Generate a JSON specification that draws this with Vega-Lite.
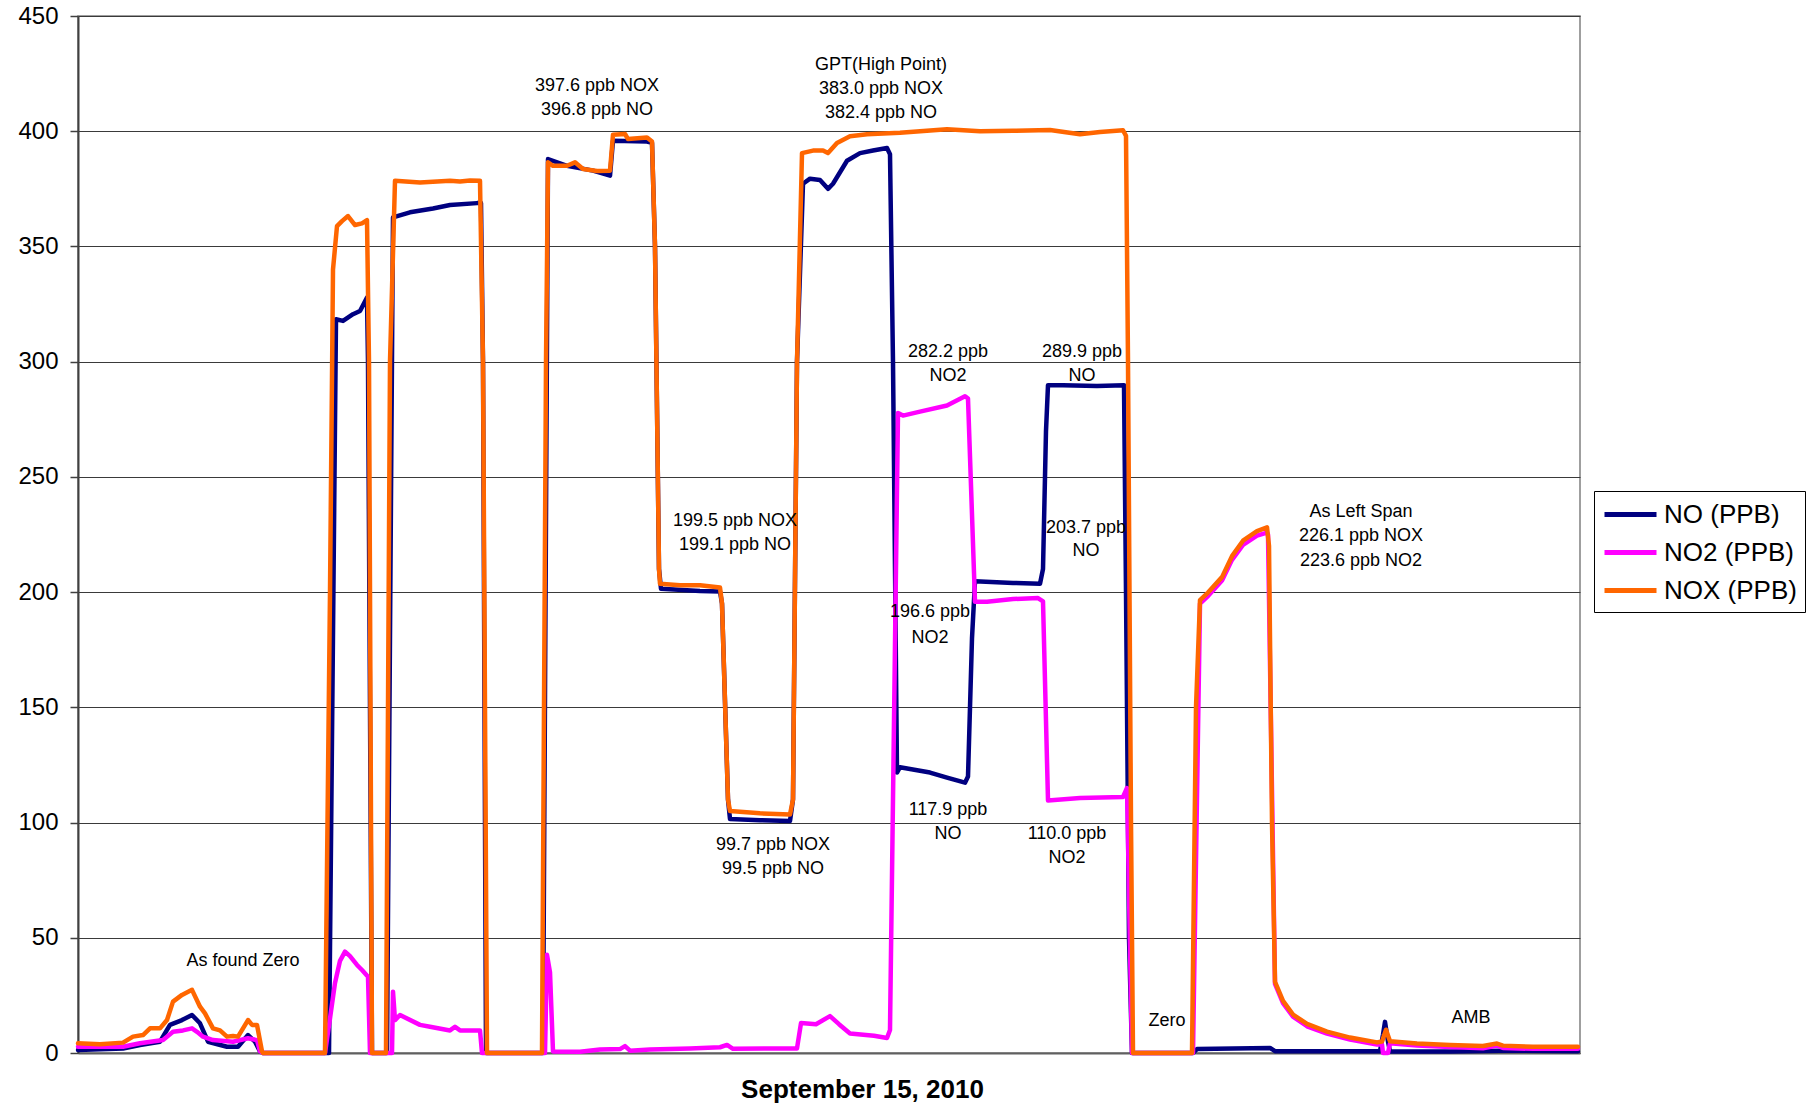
{
  "$schema": "https://vega.github.io/schema/vega-lite/v6.json",
  "width": 1502,
  "height": 1037,
  "autosize": "none",
  "padding": {"left": 78, "top": 16, "right": 234, "bottom": 52},
  "background": "white",
  "config": {
    "view": {"stroke": "#808080", "strokeWidth": 1.5},
    "font": "Liberation Sans",
    "axis": {"labelFont": "Liberation Sans", "titleFont": "Liberation Sans"}
  },
  "datasets": {
    "no": [
      {"t":78,"v":1.3},{"t":123,"v":1.9},{"t":140,"v":3.5},{"t":160,"v":4.9},{"t":170,"v":12.2},{"t":182,"v":14.3},{"t":192,"v":16.5},{"t":200,"v":12.9},{"t":208,"v":4.9},{"t":227,"v":2.7},{"t":238,"v":2.7},{"t":248,"v":7.8},{"t":255,"v":4.9},{"t":260,"v":0.7},{"t":263,"v":0},
      {"t":329,"v":0},{"t":336,"v":318.4},{"t":343,"v":317.7},{"t":353,"v":320.6},{"t":360,"v":322},{"t":367,"v":327.8},{"t":368,"v":300},{"t":372,"v":0},
      {"t":387,"v":0},{"t":393,"v":362.6},{"t":410,"v":364.8},{"t":433,"v":366.5},{"t":450,"v":368},{"t":477,"v":368.8},{"t":481,"v":368.8},{"t":483,"v":300},{"t":486,"v":0},
      {"t":543,"v":0},{"t":548,"v":387.9},{"t":567,"v":385},{"t":593,"v":382.9},{"t":610,"v":380.7},{"t":613,"v":395.9},{"t":647,"v":395.5},{"t":652,"v":395},{"t":655,"v":350},{"t":659,"v":210},{"t":661,"v":201.5},{"t":700,"v":200.5},{"t":720,"v":200.3},{"t":722,"v":195},{"t":728,"v":110},{"t":730,"v":101.5},{"t":760,"v":101},{"t":790,"v":100.7},{"t":793,"v":110},{"t":797,"v":300},{"t":803,"v":377.2},{"t":810,"v":379.4},{"t":820,"v":378.8},{"t":828,"v":375},{"t":833,"v":377.2},{"t":847,"v":387.2},{"t":860,"v":390.5},{"t":873,"v":391.6},{"t":887,"v":392.7},{"t":890,"v":390},{"t":893,"v":300},{"t":897,"v":121.7},{"t":900,"v":124},{"t":930,"v":121.7},{"t":947,"v":119.5},{"t":965,"v":117.3},{"t":968,"v":120},{"t":972,"v":180},{"t":975,"v":204.7},{"t":1013,"v":204},{"t":1040,"v":203.6},{"t":1043,"v":210},{"t":1046,"v":270},{"t":1048,"v":289.8},{"t":1063,"v":289.8},{"t":1097,"v":289.4},{"t":1124,"v":289.8},{"t":1126,"v":200},{"t":1129,"v":50},{"t":1132,"v":0},
      {"t":1193,"v":0},{"t":1197,"v":1.7},{"t":1270,"v":2.2},{"t":1275,"v":0.8},{"t":1380,"v":0.8},{"t":1383,"v":8},{"t":1385,"v":13.5},{"t":1388,"v":5},{"t":1390,"v":0.7},{"t":1450,"v":0.7},{"t":1500,"v":1},{"t":1578,"v":0.8}
    ],
    "no2": [
      {"t":78,"v":2.7},{"t":123,"v":2.7},{"t":140,"v":4.2},{"t":163,"v":5.6},{"t":173,"v":9.2},{"t":183,"v":9.8},{"t":192,"v":10.7},{"t":197,"v":9.2},{"t":203,"v":7.1},{"t":213,"v":5.6},{"t":233,"v":4.9},{"t":248,"v":6.4},{"t":257,"v":5.6},{"t":260,"v":0.7},{"t":263,"v":0},
      {"t":325,"v":0},{"t":330,"v":15},{"t":335,"v":30.4},{"t":340,"v":40},{"t":345,"v":44},{"t":350,"v":42},{"t":357,"v":38.2},{"t":362,"v":36},{"t":368,"v":33.1},{"t":370,"v":0},
      {"t":392,"v":0},{"t":393,"v":26.6},{"t":395,"v":14.3},{"t":400,"v":16.5},{"t":420,"v":12.2},{"t":430,"v":11.4},{"t":450,"v":9.8},{"t":455,"v":11.4},{"t":460,"v":9.8},{"t":480,"v":9.8},{"t":482,"v":0},
      {"t":545,"v":0},{"t":547,"v":42.6},{"t":550,"v":35},{"t":553,"v":0.7},{"t":580,"v":0.5},{"t":600,"v":1.5},{"t":620,"v":1.7},{"t":625,"v":3},{"t":630,"v":1},{"t":650,"v":1.5},{"t":690,"v":2},{"t":720,"v":2.5},{"t":727,"v":3.5},{"t":733,"v":1.8},{"t":790,"v":2},{"t":797,"v":2},{"t":801,"v":13},{"t":816,"v":12.5},{"t":830,"v":16},{"t":839,"v":12.5},{"t":850,"v":8.5},{"t":874,"v":7.5},{"t":887,"v":6.5},{"t":890,"v":10},{"t":898,"v":277.7},{"t":903,"v":276.6},{"t":920,"v":278.3},{"t":947,"v":281},{"t":965,"v":285},{"t":968,"v":284},{"t":975,"v":195.8},{"t":987,"v":195.8},{"t":1013,"v":197},{"t":1038,"v":197.4},{"t":1043,"v":196},{"t":1048,"v":109.6},{"t":1080,"v":110.7},{"t":1123,"v":111.1},{"t":1127,"v":115},{"t":1132,"v":0},
      {"t":1193,"v":0},{"t":1200,"v":195},{"t":1208,"v":198.3},{"t":1222,"v":205},{"t":1232,"v":214},{"t":1243,"v":220.5},{"t":1257,"v":224.5},{"t":1267,"v":225.8},{"t":1268,"v":225},{"t":1275,"v":30},{"t":1283,"v":21.6},{"t":1293,"v":15.8},{"t":1307,"v":11.6},{"t":1327,"v":8.4},{"t":1350,"v":5.8},{"t":1377,"v":3.7},{"t":1382,"v":3.7},{"t":1383,"v":0},{"t":1388,"v":0},{"t":1390,"v":4.2},{"t":1417,"v":3.2},{"t":1450,"v":2.6},{"t":1483,"v":2.1},{"t":1497,"v":3.2},{"t":1503,"v":2.2},{"t":1533,"v":1.8},{"t":1578,"v":1.8}
    ],
    "nox": [
      {"t":78,"v":4.2},{"t":100,"v":3.8},{"t":123,"v":4.5},{"t":133,"v":7.1},{"t":143,"v":7.8},{"t":150,"v":10.7},{"t":160,"v":10.7},{"t":167,"v":14.3},{"t":173,"v":22.3},{"t":182,"v":25.2},{"t":192,"v":27.4},{"t":200,"v":20.1},{"t":205,"v":17.2},{"t":213,"v":10.7},{"t":220,"v":9.8},{"t":227,"v":7.1},{"t":233,"v":7.4},{"t":238,"v":7.1},{"t":248,"v":14.3},{"t":252,"v":12.2},{"t":257,"v":12.2},{"t":262,"v":0.7},{"t":263,"v":0},
      {"t":325,"v":0},{"t":330,"v":200},{"t":333,"v":340},{"t":337,"v":358.8},{"t":342,"v":361},{"t":348,"v":363.2},{"t":355,"v":359.3},{"t":362,"v":360},{"t":367,"v":361.4},{"t":369,"v":300},{"t":372,"v":0},
      {"t":386,"v":0},{"t":390,"v":300},{"t":395,"v":378.5},{"t":420,"v":377.8},{"t":450,"v":378.5},{"t":460,"v":378.2},{"t":470,"v":378.6},{"t":480,"v":378.5},{"t":483,"v":300},{"t":487,"v":0},
      {"t":542,"v":0},{"t":546,"v":300},{"t":548,"v":386.5},{"t":553,"v":385},{"t":567,"v":385},{"t":575,"v":386.5},{"t":583,"v":383.6},{"t":597,"v":382.7},{"t":610,"v":382.9},{"t":613,"v":398.5},{"t":625,"v":398.8},{"t":628,"v":396.6},{"t":647,"v":397.3},{"t":652,"v":395.5},{"t":655,"v":350},{"t":659,"v":210},{"t":660,"v":203.6},{"t":680,"v":203},{"t":700,"v":203},{"t":720,"v":202},{"t":722,"v":195},{"t":728,"v":110},{"t":730,"v":105},{"t":760,"v":104},{"t":790,"v":103.5},{"t":793,"v":110},{"t":797,"v":300},{"t":802,"v":390.5},{"t":813,"v":391.6},{"t":823,"v":391.6},{"t":828,"v":390.5},{"t":837,"v":394.9},{"t":850,"v":397.8},{"t":867,"v":398.7},{"t":900,"v":399.3},{"t":947,"v":400.9},{"t":980,"v":400},{"t":1013,"v":400.2},{"t":1050,"v":400.5},{"t":1080,"v":398.7},{"t":1100,"v":399.7},{"t":1123,"v":400.4},{"t":1126,"v":398},{"t":1128,"v":300},{"t":1131,"v":100},{"t":1133,"v":0},
      {"t":1192,"v":0},{"t":1196,"v":150},{"t":1200,"v":196.5},{"t":1208,"v":199.8},{"t":1222,"v":206.5},{"t":1232,"v":215.6},{"t":1243,"v":222.3},{"t":1257,"v":226.5},{"t":1267,"v":228.1},{"t":1269,"v":220},{"t":1272,"v":100},{"t":1275,"v":30.9},{"t":1283,"v":22.6},{"t":1293,"v":16.7},{"t":1307,"v":12.6},{"t":1327,"v":9.3},{"t":1350,"v":6.7},{"t":1377,"v":4.6},{"t":1382,"v":5},{"t":1386,"v":10.1},{"t":1390,"v":5.1},{"t":1417,"v":4.1},{"t":1450,"v":3.5},{"t":1483,"v":3.0},{"t":1497,"v":4.1},{"t":1503,"v":3.2},{"t":1533,"v":2.7},{"t":1578,"v":2.7}
    ],
    "labels": [
      {"t":597,"v":419.6,"text":"397.6 ppb NOX"},
      {"t":597,"v":409.2,"text":"396.8 ppb NO"},
      {"t":881,"v":428.6,"text":"GPT(High Point)"},
      {"t":881,"v":418.2,"text":"383.0 ppb NOX"},
      {"t":881,"v":407.8,"text":"382.4 ppb NO"},
      {"t":735,"v":230.7,"text":"199.5 ppb NOX"},
      {"t":735,"v":220.3,"text":"199.1 ppb NO"},
      {"t":773,"v":90.1,"text":"99.7 ppb NOX"},
      {"t":773,"v":79.9,"text":"99.5 ppb NO"},
      {"t":948,"v":304.2,"text":"282.2 ppb"},
      {"t":948,"v":293.8,"text":"NO2"},
      {"t":1082,"v":304.2,"text":"289.9 ppb"},
      {"t":1082,"v":293.8,"text":"NO"},
      {"t":1086,"v":227.8,"text":"203.7 ppb"},
      {"t":1086,"v":217.9,"text":"NO"},
      {"t":930,"v":191.3,"text":"196.6 ppb"},
      {"t":930,"v":180.2,"text":"NO2"},
      {"t":948,"v":105.4,"text":"117.9 ppb"},
      {"t":948,"v":95,"text":"NO"},
      {"t":1067,"v":95,"text":"110.0 ppb"},
      {"t":1067,"v":84.5,"text":"NO2"},
      {"t":1361,"v":234.8,"text":"As Left Span"},
      {"t":1361,"v":224.3,"text":"226.1 ppb NOX"},
      {"t":1361,"v":213.5,"text":"223.6 ppb NO2"},
      {"t":1167,"v":14.1,"text":"Zero"},
      {"t":1471,"v":15.3,"text":"AMB"},
      {"t":243,"v":40.1,"text":"As found Zero"}
    ]
  },
  "encoding": {
    "x": {
      "field": "t", "type": "quantitative",
      "scale": {"domain": [78, 1580], "nice": false, "zero": false},
      "axis": {
        "title": "September 15, 2010", "labels": false, "ticks": false, "grid": false,
        "domainColor": "#606060", "domainWidth": 2,
        "titleFont": "Liberation Sans", "titleFontSize": 26, "titleFontWeight": "bold", "titleColor": "black",
        "titleX": 784, "titleY": 44, "titleAlign": "center", "titleBaseline": "alphabetic", "titleAnchor": null
      }
    },
    "y": {
      "field": "v", "type": "quantitative",
      "scale": {"domain": [0, 450], "nice": false},
      "axis": {
        "title": null, "values": [0,50,100,150,200,250,300,350,400,450],
        "labelFont": "Liberation Sans", "labelFontSize": 24, "labelColor": "black", "labelPadding": 12,
        "tickSize": 8, "tickColor": "#404040", "tickWidth": 1.5,
        "domainColor": "#404040", "domainWidth": 2,
        "grid": true, "gridColor": "#3a3a3a", "gridWidth": 1
      }
    }
  },
  "layer": [
    {
      "data": {"name": "no"},
      "mark": {"type": "line", "strokeWidth": 4.5, "strokeJoin": "round", "strokeCap": "round"},
      "encoding": {
        "color": {
          "datum": "NO (PPB)", "type": "nominal",
          "scale": {"domain": ["NO (PPB)", "NO2 (PPB)", "NOX (PPB)"], "range": ["#000080", "#FF00FF", "#FF6600"]},
          "legend": {
            "orient": "none", "legendX": 1516, "legendY": 475, "title": null,
            "symbolType": "M-1,0H3", "symbolSize": 676, "symbolStrokeWidth": 5,
            "labelFont": "Liberation Sans", "labelFontSize": 26, "labelColor": "black", "labelOffset": 31,
            "padding": 8, "strokeColor": "black", "fillColor": "white", "rowPadding": 9
          }
        }
      }
    },
    {
      "data": {"name": "no2"},
      "mark": {"type": "line", "strokeWidth": 4.5, "strokeJoin": "round", "strokeCap": "round"},
      "encoding": {"color": {"datum": "NO2 (PPB)", "type": "nominal"}}
    },
    {
      "data": {"name": "nox"},
      "mark": {"type": "line", "strokeWidth": 4.5, "strokeJoin": "round", "strokeCap": "round"},
      "encoding": {"color": {"datum": "NOX (PPB)", "type": "nominal"}}
    },
    {
      "data": {"name": "labels"},
      "mark": {"type": "text", "font": "Liberation Sans", "fontSize": 18, "color": "black", "align": "center", "baseline": "middle"},
      "encoding": {"text": {"field": "text"}}
    }
  ]
}
